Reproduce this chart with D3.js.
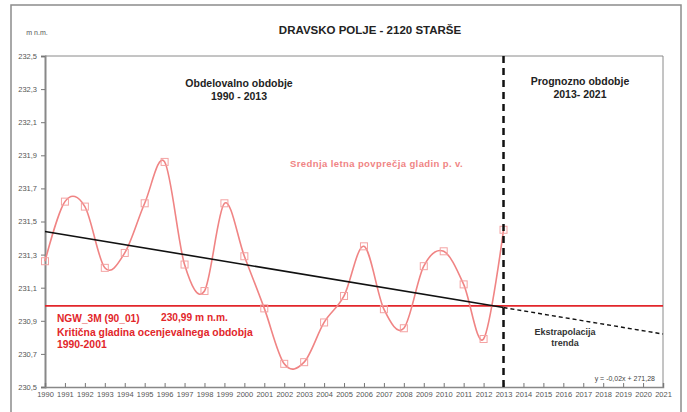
<!DOCTYPE html>
<html><head><meta charset="utf-8">
<script src="https://cdn.jsdelivr.net/npm/d3@7"></script>
<style>
html,body{margin:0;padding:0;background:#fff;}
svg{display:block;font-family:"Liberation Sans",Arial,sans-serif;}
</style></head>
<body>
<svg id="c" width="687" height="412"></svg>
<script>
const years = [1990,1991,1992,1993,1994,1995,1996,1997,1998,1999,2000,2001,2002,2003,2004,2005,2006,2007,2008,2009,2010,2011,2012,2013];
const levels = [231.26,231.62,231.59,231.22,231.31,231.61,231.86,231.24,231.08,231.61,231.29,230.975,230.64,230.65,230.89,231.05,231.35,230.97,230.855,231.23,231.32,231.12,230.79,231.45];
const trendYears = [1990,2013];
const trendValues = [231.44,230.98];
const extrapYears = [2013,2021];
const extrapValues = [230.98,230.82];
const criticalLevel = 230.99;
const periodSplit = 2013;
const yTicks = [230.5,230.7,230.9,231.1,231.3,231.5,231.7,231.9,232.1,232.3,232.5];
const yTickLabels = ["230,5","230,7","230,9","231,1","231,3","231,5","231,7","231,9","232,1","232,3","232,5"];
const xTicks = [1990,1991,1992,1993,1994,1995,1996,1997,1998,1999,2000,2001,2002,2003,2004,2005,2006,2007,2008,2009,2010,2011,2012,2013,2014,2015,2016,2017,2018,2019,2020,2021];

const svg = d3.select("#c");
const L=45, R=663, T=56, B=387;
const x = d3.scaleLinear().domain([1990,2021]).range([L,R]);
const y = d3.scaleLinear().domain([230.5,232.5]).range([B,T]);

// outer frame
svg.append("rect").attr("x",11).attr("y",5).attr("width",670).attr("height",420)
  .attr("fill","none").attr("stroke","#8c8c8c").attr("stroke-width",1.5);

// plot border (top & right)
svg.append("path").attr("d",`M${L},${T}H${R}V${B}`).attr("fill","none").attr("stroke","#8a8a8a").attr("stroke-width",1);

// axes
const yAxis = d3.axisLeft(y).tickValues(yTicks).tickFormat((d,i)=>yTickLabels[i]).tickSize(4).tickPadding(4);
const gy = svg.append("g").attr("transform",`translate(${L},0)`).call(yAxis);
gy.select(".domain").attr("stroke","#888").attr("stroke-width",2);
gy.selectAll(".tick line").attr("stroke","#777");
gy.selectAll("text").attr("fill","#555").attr("font-size","7.5px").attr("font-family","Liberation Sans, Arial, sans-serif");

const xAxis = d3.axisBottom(x).tickValues(xTicks).tickFormat(d=>String(d)).tickSize(-4).tickPadding(5);
const gx = svg.append("g").attr("transform",`translate(0,${B})`).call(xAxis);
gx.select(".domain").attr("stroke","#888").attr("stroke-width",1.5);
gx.selectAll(".tick line").attr("stroke","#777");
gx.selectAll("text").attr("fill","#555").attr("font-size","7.5px").attr("font-family","Liberation Sans, Arial, sans-serif");

svg.append("text").attr("x",37).attr("y",35).attr("text-anchor","middle").attr("font-size","7px").attr("fill","#555").text("m n.m.");

// title
svg.append("text").attr("x",370).attr("y",34).attr("text-anchor","middle").attr("font-size","11.5px").attr("font-weight","bold").attr("fill","#222").text("DRAVSKO POLJE - 2120  STARŠE");

// critical line
svg.append("line").attr("x1",x(1990)).attr("x2",x(2021)).attr("y1",y(criticalLevel)).attr("y2",y(criticalLevel))
  .attr("stroke","#e2262b").attr("stroke-width",1.6);

// smooth series
const line = d3.line().x((d,i)=>x(years[i])).y(d=>y(d)).curve(d3.curveCardinal.tension(0));
svg.append("path").datum(levels).attr("d",line).attr("fill","none").attr("stroke","#f08484").attr("stroke-width",1.6);

// trend
const tline = d3.line().x((d,i)=>x(d[0])).y(d=>y(d[1]));
svg.append("path").datum(trendYears.map((t,i)=>[t,trendValues[i]])).attr("d",tline).attr("fill","none").attr("stroke","#111").attr("stroke-width",1.6);
svg.append("path").datum(extrapYears.map((t,i)=>[t,extrapValues[i]])).attr("d",tline).attr("fill","none").attr("stroke","#111").attr("stroke-width",1.4).attr("stroke-dasharray","4,3");

// markers
svg.selectAll("rect.m").data(levels).enter().append("rect").attr("class","m")
  .attr("x",(d,i)=>x(years[i])-3.5).attr("y",d=>y(d)-3.5).attr("width",7).attr("height",7)
  .attr("fill","none").attr("stroke","#f4a3a3").attr("stroke-width",1);

// period split
svg.append("line").attr("x1",x(periodSplit)).attr("x2",x(periodSplit)).attr("y1",T).attr("y2",B)
  .attr("stroke","#111").attr("stroke-width",2.5).attr("stroke-dasharray","7,5");

// annotations
function txt(xp,yp,s,opt){
  const t=svg.append("text").attr("x",xp).attr("y",yp).text(s)
    .attr("font-size",opt.size||"10px").attr("fill",opt.fill||"#222")
    .attr("font-weight",opt.bold?"bold":"normal").attr("text-anchor",opt.anchor||"start");
  if(opt.ls) t.attr("letter-spacing",opt.ls);
  return t;
}
txt(239,87,"Obdelovalno obdobje",{size:"10.5px",bold:true,anchor:"middle"});
txt(239,100,"1990 - 2013",{size:"10.5px",bold:true,anchor:"middle"});
txt(580,85,"Prognozno obdobje",{size:"10.5px",bold:true,anchor:"middle"});
txt(580,98,"2013- 2021",{size:"10.5px",bold:true,anchor:"middle"});
txt(290,167,"Srednja letna povprečja gladin p. v.",{size:"9.5px",fill:"#f08484",bold:true,ls:"0.4px"});
txt(57,322,"NGW_3M (90_01)",{size:"10.2px",fill:"#e2262b",bold:true});
txt(161,321,"230,99 m n.m.",{size:"10.2px",fill:"#e2262b",bold:true});
txt(57,336,"Kritična gladina  ocenjevalnega  obdobja",{size:"10.4px",fill:"#e2262b",bold:true});
txt(57,348,"1990-2001",{size:"10.4px",fill:"#e2262b",bold:true});
txt(565,335,"Ekstrapolacija",{size:"9px",bold:true,anchor:"middle",fill:"#333"});
txt(565,346,"trenda",{size:"9px",bold:true,anchor:"middle",fill:"#333"});
txt(655,381,"y = -0,02x + 271,28",{size:"7px",anchor:"end",fill:"#444"});
</script>
</body></html>
